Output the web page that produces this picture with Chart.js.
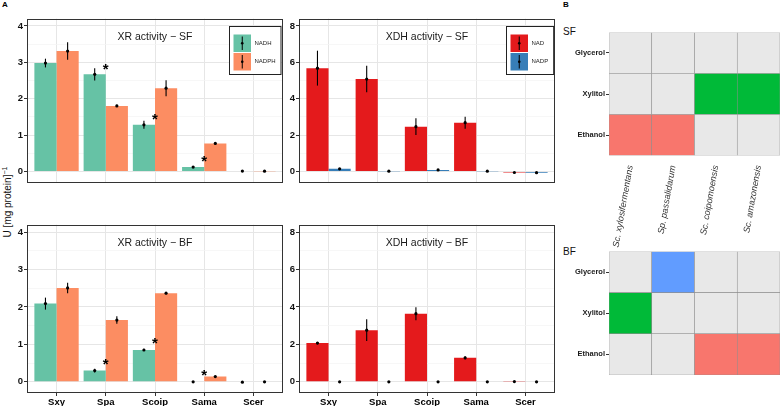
<!DOCTYPE html>
<html><head><meta charset="utf-8">
<script src="https://cdn.jsdelivr.net/npm/chart.js@4.4.1/dist/chart.umd.min.js"></script>
<style>
html,body{margin:0;padding:0;background:#fff;}
body{width:780px;height:406px;position:relative;overflow:hidden;font-family:"Liberation Sans",Arial,sans-serif;}
canvas{position:absolute;}
.lbl{position:absolute;color:#000;white-space:nowrap;line-height:1;}
</style></head><body>
<div class="lbl" style="left:2px;top:1px;font-weight:bold;font-size:8px;">A</div>
<div class="lbl" style="left:563px;top:1px;font-weight:bold;font-size:8px;">B</div>
<div class="lbl" style="left:7px;top:202px;font-size:10px;transform:translate(-50%,-50%) rotate(-90deg);color:#111;">U [mg protein]<sup style="font-size:7px;">−1</sup></div>
<div class="lbl" style="left:563px;top:27px;font-size:10px;color:#111;">SF</div>
<div class="lbl" style="left:563px;top:247px;font-size:10px;color:#111;">BF</div>
<canvas id="xrSF" width="277" height="177" style="left:8px;top:12px"></canvas>
<canvas id="xdhSF" width="277" height="177" style="left:280px;top:12px"></canvas>
<canvas id="xrBF" width="277" height="188" style="left:8px;top:218px"></canvas>
<canvas id="xdhBF" width="277" height="188" style="left:280px;top:218px"></canvas>
<canvas id="hmBF" width="215" height="135" style="left:565px;top:246px"></canvas>
<canvas id="hmSF" width="215" height="225" style="left:565px;top:27px"></canvas>
<script>
// ---------------- DATA ----------------
const categories = ['Sxy', 'Spa', 'Scoip', 'Sama', 'Scer'];

const xrTicks = [0, 1, 2, 3, 4];
const xdhTicks = [0, 2, 4, 6, 8];

// XR activity - SF
const xrSfNADH = [2.98, 2.67, 1.28, 0.12, 0.01];
const xrSfNADHErr = [0.12, 0.17, 0.11, 0.01, 0.01];
const xrSfNADPH = [3.31, 1.80, 2.29, 0.77, 0.005];
const xrSfNADPHErr = [0.24, 0.03, 0.22, 0.02, 0.01];
const xrSfStarCats = ['Spa', 'Scoip', 'Sama'];
const xrSfStarY = [2.92, 1.53, 0.38];

// XDH activity - SF
const xdhSfNAD = [5.68, 5.08, 2.46, 2.68, -0.06];
const xdhSfNADErr = [0.96, 0.73, 0.46, 0.33, 0.02];
const xdhSfNADP = [0.14, 0.01, 0.08, 0.01, -0.07];
const xdhSfNADPErr = [0.02, 0.01, 0.02, 0.01, 0.02];

// XR activity - BF
const xrBfNADH = [2.09, 0.30, 0.85, 0.0, -0.01];
const xrBfNADHErr = [0.16, 0.05, 0.03, 0.0, 0.0];
const xrBfNADPH = [2.51, 1.65, 2.37, 0.14, 0.0];
const xrBfNADPHErr = [0.14, 0.10, 0.03, 0.02, 0.0];
const xrBfStarCats = ['Spa', 'Scoip', 'Sama'];
const xrBfStarY = [0.57, 1.13, 0.26];

// XDH activity - BF
const xdhBfNAD = [2.07, 2.76, 3.64, 1.28, 0.01];
const xdhBfNADErr = [0.06, 0.58, 0.35, 0.08, 0.0];
const xdhBfNADP = [0, 0, 0, 0, 0];
const xdhBfNADPErr = [0, 0, 0, 0, 0];

// Heatmaps (B): 1 = main product for that species
const species = ['Sc. xylosifermentans', 'Sp. passalidarum', 'Sc. coipomoensis', 'Sc. amazonensis'];
const products = ['Glycerol', 'Xylitol', 'Ethanol']; // top to bottom
const sfGlycerol = [0, 0, 0, 0];
const sfXylitol = [0, 0, 1, 1];
const sfEthanol = [1, 1, 0, 0];
const bfGlycerol = [0, 1, 0, 0];
const bfXylitol = [1, 0, 0, 0];
const bfEthanol = [0, 0, 1, 1];

// ---------------- STYLE ----------------
const FONT = '"Liberation Sans", Arial, sans-serif';
Chart.defaults.font.family = FONT;
Chart.defaults.color = '#000';
Chart.defaults.animation = false;

const colNADH = '#66C2A5', colNADPH = '#FC8D62', colNAD = '#E41A1C', colNADP = '#377EB8';
const productColor = {Glycerol: '#619CFF', Xylitol: '#00BA38', Ethanol: '#F8766D'};
const tileGrey = '#E8E8E8';

const errorBarsPlugin = {
  id: 'errorBars',
  afterDatasetsDraw(chart) {
    const ys = chart.scales.y, ctx = chart.ctx;
    chart.data.datasets.forEach((ds, i) => {
      if (!ds.errors) return;
      const meta = chart.getDatasetMeta(i);
      meta.data.forEach((el, j) => {
        const v = ds.data[j], e = ds.errors[j], x = el.x;
        ctx.save();
        ctx.strokeStyle = '#000'; ctx.lineWidth = 1.1;
        if (e > 0) {
          ctx.beginPath();
          ctx.moveTo(x, ys.getPixelForValue(v - e));
          ctx.lineTo(x, ys.getPixelForValue(v + e));
          ctx.stroke();
        }
        ctx.fillStyle = '#000';
        ctx.beginPath(); ctx.arc(x, ys.getPixelForValue(v), 1.6, 0, Math.PI * 2); ctx.fill();
        ctx.restore();
      });
    });
  }
};

const panelPlugin = {
  id: 'panel',
  afterDraw(chart, args, opts) {
    if (!opts || !opts.enabled) return;
    const ctx = chart.ctx, a = chart.chartArea;
    ctx.save();
    // border
    ctx.strokeStyle = '#333'; ctx.lineWidth = 1;
    ctx.strokeRect(Math.round(a.left) + 0.5, Math.round(a.top) + 0.5,
                   Math.round(a.right - a.left) - 1, Math.round(a.bottom - a.top) - 1);
    // title
    if (opts.title) {
      ctx.fillStyle = '#1a1a1a';
      ctx.font = '10.5px ' + FONT;
      ctx.textAlign = 'center'; ctx.textBaseline = 'middle';
      ctx.fillText(opts.title, (a.left + a.right) / 2, a.top + 18);
    }
    // stars
    if (opts.stars) {
      ctx.fillStyle = '#000';
      ctx.font = 'bold 15px ' + FONT;
      ctx.textAlign = 'center'; ctx.textBaseline = 'alphabetic';
      opts.stars.cats.forEach((c, i) => {
        const x = chart.scales.x.getPixelForValue(categories.indexOf(c));
        const y = chart.scales.y.getPixelForValue(opts.stars.ys[i]);
        ctx.fillText('*', x, y + 15 * 0.56);
      });
    }
    // legend
    if (opts.legend) {
      const dss = chart.data.datasets;
      ctx.font = '6px ' + FONT;
      let tw = 0;
      dss.forEach(d => { tw = Math.max(tw, ctx.measureText(d.label).width); });
      const key = 17.5, step = 18.5;
      const bw = 4.5 + key + 3.5 + tw + 5, bh = 48;
      const bx = Math.round(a.right - 2 - bw) + 0.5, by = Math.round(a.top + 7) + 0.5;
      ctx.fillStyle = '#fff'; ctx.fillRect(bx, by, bw, bh);
      ctx.strokeStyle = '#222'; ctx.lineWidth = 1; ctx.strokeRect(bx, by, bw, bh);
      dss.forEach((d, k) => {
        const kx = bx + 4, ky = by + 8 + k * step;
        ctx.fillStyle = d.backgroundColor;
        ctx.fillRect(kx, ky, key, key);
        ctx.strokeStyle = '#000'; ctx.lineWidth = 1;
        ctx.beginPath(); ctx.moveTo(kx + key / 2, ky + 2); ctx.lineTo(kx + key / 2, ky + key - 2); ctx.stroke();
        ctx.fillStyle = '#000';
        ctx.beginPath(); ctx.arc(kx + key / 2, ky + key / 2, 1.3, 0, Math.PI * 2); ctx.fill();
        ctx.fillStyle = '#222'; ctx.textAlign = 'left'; ctx.textBaseline = 'middle';
        ctx.fillText(d.label, kx + key + 3.5, ky + key / 2);
      });
    }
    ctx.restore();
  }
};

function barPanel(id, cfg) {
  const majors = cfg.majors;
  const minors = [];
  for (let i = 0; i < majors.length - 1; i++) minors.push((majors[i] + majors[i + 1]) / 2);
  const allTicks = majors.concat(minors).sort((p, q) => p - q);
  const isMajor = v => majors.indexOf(v) >= 0;
  const mk = (label, data, err, color) => ({
    label, data, errors: err, backgroundColor: color, borderWidth: 0,
    categoryPercentage: 0.9, barPercentage: 1.0
  });
  return new Chart(document.getElementById(id), {
    type: 'bar',
    data: {
      labels: categories,
      datasets: [mk(cfg.l1, cfg.d1, cfg.e1, cfg.c1), mk(cfg.l2, cfg.d2, cfg.e2, cfg.c2)]
    },
    plugins: [errorBarsPlugin, panelPlugin],
    options: {
      responsive: false,
      animation: false,
      layout: {padding: {top: 1, right: 2, bottom: cfg.showX ? 0 : 2, left: 0}},
      plugins: {
        legend: {display: false}, tooltip: {enabled: false},
        panel: {enabled: true, title: cfg.title, legend: cfg.legend, stars: cfg.stars}
      },
      scales: {
        x: {
          type: 'category',
          offset: true,
          border: {display: false},
          grid: {offset: false, color: '#E6E6E6', lineWidth: 1, drawTicks: cfg.showX, tickLength: 3, tickColor: '#333'},
          ticks: {display: cfg.showX, font: {size: 9.5, weight: 'bold'}, color: '#000', padding: 1, autoSkip: false, maxRotation: 0},
          afterBuildTicks: (s) => { s._startValue = -0.6; s._valueRange = categories.length - 1 + 1.2; },
          afterFit: (s) => { s.height = cfg.showX ? 13 : 0; }
        },
        y: {
          type: 'linear',
          min: cfg.yMin, max: cfg.yMax,
          border: {display: false},
          afterBuildTicks: (s) => { s.ticks = allTicks.map(v => ({value: v})); },
          afterFit: (s) => { s.width = 19; },
          grid: {
            color: (c) => (c.tick && isMajor(c.tick.value)) ? '#E6E6E6' : '#F3F3F3',
            lineWidth: (c) => (c.tick && isMajor(c.tick.value)) ? 1 : 0.7,
            tickColor: (c) => (c.tick && isMajor(c.tick.value)) ? '#333' : 'rgba(0,0,0,0)',
            tickLength: 3
          },
          ticks: {
            callback: (v) => isMajor(v) ? String(v) : '',
            font: {size: 9.5, weight: 'bold'}, color: '#111', padding: 1
          }
        }
      }
    }
  });
}

barPanel('xrSF', {
  title: 'XR activity − SF', majors: xrTicks, yMin: -0.3, yMax: 4.2,
  l1: 'NADH', d1: xrSfNADH, e1: xrSfNADHErr, c1: colNADH,
  l2: 'NADPH', d2: xrSfNADPH, e2: xrSfNADPHErr, c2: colNADPH,
  legend: true, stars: {cats: xrSfStarCats, ys: xrSfStarY}, showX: false
});
barPanel('xdhSF', {
  title: 'XDH activity − SF', majors: xdhTicks, yMin: -0.6, yMax: 8.4,
  l1: 'NAD', d1: xdhSfNAD, e1: xdhSfNADErr, c1: colNAD,
  l2: 'NADP', d2: xdhSfNADP, e2: xdhSfNADPErr, c2: colNADP,
  legend: true, stars: null, showX: false
});
barPanel('xrBF', {
  title: 'XR activity − BF', majors: xrTicks, yMin: -0.3, yMax: 4.2,
  l1: 'NADH', d1: xrBfNADH, e1: xrBfNADHErr, c1: colNADH,
  l2: 'NADPH', d2: xrBfNADPH, e2: xrBfNADPHErr, c2: colNADPH,
  legend: false, stars: {cats: xrBfStarCats, ys: xrBfStarY}, showX: true
});
barPanel('xdhBF', {
  title: 'XDH activity − BF', majors: xdhTicks, yMin: -0.6, yMax: 8.4,
  l1: 'NAD', d1: xdhBfNAD, e1: xdhBfNADErr, c1: colNAD,
  l2: 'NADP', d2: xdhBfNADP, e2: xdhBfNADPErr, c2: colNADP,
  legend: false, stars: null, showX: true
});

function heatmap(id, rows, showX, xHeight, padTop, padBottom) {
  const order = products.slice().reverse(); // bottom to top for stacking
  const tileHeight = 1;
  const datasets = order.map(p => ({
    label: p,
    data: species.map(() => tileHeight),
    backgroundColor: rows[p].map(f => f ? productColor[p] : tileGrey),
    borderColor: '#8E8E8E', borderWidth: 0.6, borderSkipped: false,
    categoryPercentage: 1, barPercentage: 1
  }));
  return new Chart(document.getElementById(id), {
    type: 'bar',
    data: {labels: species, datasets},
    options: {
      responsive: false, animation: false,
      layout: {padding: {top: padTop, right: 0, bottom: padBottom, left: 0}},
      plugins: {legend: {display: false}, tooltip: {enabled: false}},
      scales: {
        x: {
          type: 'category', stacked: true, display: showX,
          border: {display: false},
          grid: {display: false},
          ticks: {minRotation: 80, maxRotation: 80, autoSkip: false, padding: 1,
                  font: {size: 9, style: 'italic'}, color: '#333'},
          afterFit: (s) => { s.height = xHeight; }
        },
        y: {
          type: 'linear', stacked: true, min: 0, max: products.length,
          border: {display: false},
          afterBuildTicks: (s) => { s.ticks = products.map((p, i) => ({value: products.length - 1 - i + 0.5})); },
          afterFit: (s) => { s.width = 44; },
          grid: {drawOnChartArea: false, drawTicks: true, tickLength: 3, tickColor: '#333'},
          ticks: {
            callback: (v) => products[products.length - 1 - Math.floor(v)],
            font: {size: 7.5, weight: 'bold'}, color: '#1a1a1a', padding: 1
          }
        }
      }
    }
  });
}

heatmap('hmSF', {Glycerol: sfGlycerol, Xylitol: sfXylitol, Ethanol: sfEthanol}, true, 96.5, 2, 0);
heatmap('hmBF', {Glycerol: bfGlycerol, Xylitol: bfXylitol, Ethanol: bfEthanol}, false, 0, 1.7, 6);
</script>
</body></html>
